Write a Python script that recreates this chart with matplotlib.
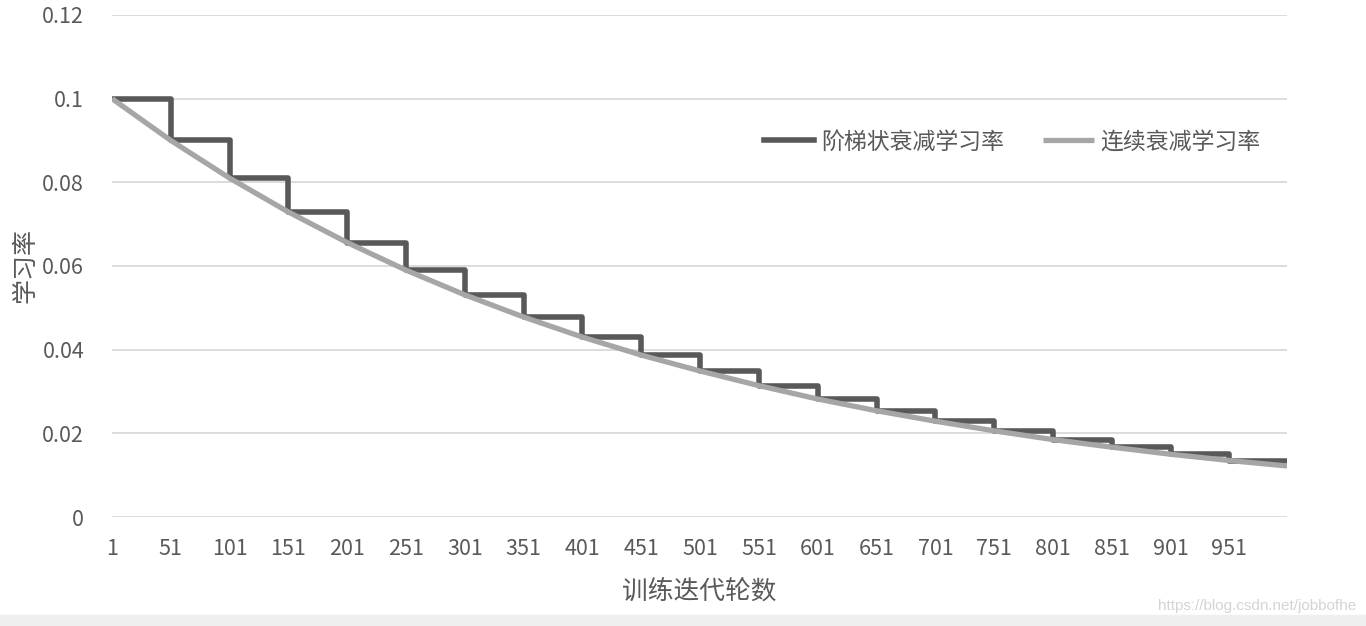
import matplotlib
matplotlib.use('Agg')
import matplotlib.pyplot as plt
from matplotlib.patches import Rectangle

plt.rcParams['font.family'] = ['Noto Sans CJK SC', 'DejaVu Sans']

# iteration where each lr stage starts (last entry = final iteration)
iters = [1, 51, 101, 151, 201, 251, 301, 351, 401, 451, 501,
         551, 601, 651, 701, 751, 801, 851, 901, 951, 1000]
# staircase lr, held constant over each 50-iteration stage
step_lr = [0.1, 0.09, 0.081, 0.0729, 0.0656, 0.059, 0.0531, 0.0478, 0.043, 0.0387,
           0.0349, 0.0314, 0.0282, 0.0254, 0.0229, 0.0206, 0.0185, 0.0167, 0.015, 0.0135,
           0.0135]
# continuous lr read at the same iterations
cont_lr = [0.1, 0.09, 0.081, 0.0729, 0.0656, 0.059, 0.0531, 0.0478, 0.043, 0.0387,
           0.0349, 0.0314, 0.0282, 0.0254, 0.0229, 0.0206, 0.0185, 0.0167, 0.015, 0.0135,
           0.0122]

xticks = list(range(1, 1000, 50))
yticks = [0, 0.02, 0.04, 0.06, 0.08, 0.1, 0.12]
ytick_labels = ['0', '0.02', '0.04', '0.06', '0.08', '0.1', '0.12']

txt = '#595959'

fig = plt.figure(figsize=(13.66, 6.26), dpi=100)
ax = fig.add_axes([0.082, 0.1741, 0.8602, 0.802])

ax.plot(iters, step_lr, drawstyle='steps-post', color='#595959', lw=4.0,
        label='阶梯状衰减学习率', solid_joinstyle='round', zorder=3)
ax.plot(iters, cont_lr, color='#a6a6a6', lw=3.8, label='连续衰减学习率',
        solid_capstyle='butt', zorder=4)

ax.set_xlim(1, 1000)
ax.set_ylim(0, 0.12)
ax.set_xticks(xticks)
ax.set_xticklabels([str(t) for t in xticks])
ax.set_yticks(yticks)
ax.set_yticklabels(ytick_labels)
ax.tick_params(axis='both', length=0, labelsize=15.5, labelcolor=txt)
ax.tick_params(axis='y', pad=20)
ax.tick_params(axis='x', pad=15)
ax.grid(axis='y', color='#d9d9d9', lw=1.3)
ax.set_axisbelow(True)
for s in ax.spines.values():
    s.set_visible(False)

ax.set_xlabel('训练迭代轮数', fontsize=18.5, color=txt, labelpad=14)
ax.set_ylabel('学习率', fontsize=18, color=txt)
ax.yaxis.set_label_coords(-0.063, 0.5)

leg = ax.legend(loc='center left', bbox_to_anchor=(0.545, 0.747), ncol=2, frameon=False,
                fontsize=16.5, handlelength=2.2, columnspacing=1.7, handletextpad=0.3,
                borderpad=0)
for t in leg.get_texts():
    t.set_color(txt)

# grey strip at the bottom and watermark
fig.patches.append(Rectangle((0, 0), 1, 11 / 626, transform=fig.transFigure,
                             color='#efefef', zorder=0))
fig.text(0.993, 0.032, 'https://blog.csdn.net/jobbofhe', ha='right', va='center',
         fontsize=11, color='#d4d4d4', family=['Liberation Sans', 'DejaVu Sans'])

fig.savefig('out.png', dpi=100)
